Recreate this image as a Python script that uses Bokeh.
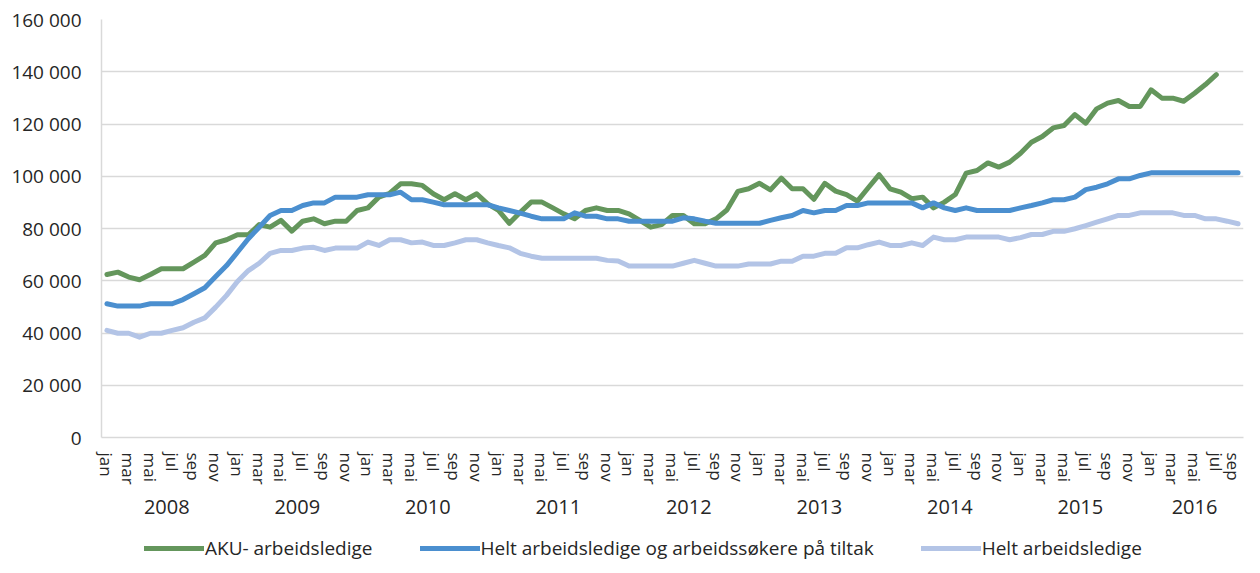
from bokeh.plotting import figure
from bokeh.layouts import column
from bokeh.models import FixedTicker, LinearAxis, Range1d, Legend, LegendItem, ColumnDataSource
from bokeh.embed import file_html
from bokeh.resources import INLINE

# ---- data -------------------------------------------------------------
MONTHS = ["jan", "feb", "mar", "apr", "mai", "jun", "jul", "aug", "sep", "okt", "nov", "des"]
YEARS = [2008, 2009, 2010, 2011, 2012, 2013, 2014, 2015, 2016]
N_MONTHS = 105  # jan 2008 .. sep 2016

SERIES_NAMES = ["AKU- arbeidsledige",
                "Helt arbeidsledige og arbeidssøkere på tiltak",
                "Helt arbeidsledige"]

# thousands of persons, one value per month from jan 2008
aku = [62.4, 63.3, 61.4, 60.4, 62.4, 64.6, 64.6, 64.6, 67.1, 69.7, 74.5, 75.7,
       77.6, 77.6, 81.5, 80.5, 83.1, 79.0, 82.8, 83.7, 81.8, 82.8, 82.8, 86.9,
       87.9, 92.0, 93.5, 97.1, 97.1, 96.5, 93.3, 91.0, 93.3, 91.0, 93.3, 89.4,
       86.9, 82.0, 86.2, 90.1, 90.1, 87.9, 85.6, 83.7, 86.9, 87.9, 86.9, 86.9,
       85.6, 83.1, 80.5, 81.5, 85.0, 85.0, 81.8, 81.8, 83.7, 87.1, 94.2, 95.2,
       97.3, 94.8, 99.3, 95.2, 95.2, 91.2, 97.3, 94.3, 93.0, 90.5, 95.6, 100.6,
       95.2, 93.9, 91.4, 92.0, 87.9, 90.1, 93.0, 101.2, 102.2, 105.1, 103.5, 105.4,
       108.8, 113.0, 115.2, 118.5, 119.4, 123.6, 120.3, 125.8, 128.0, 129.0, 126.7, 126.7,
       133.1, 129.9, 129.9, 128.7, 131.8, 135.1, 138.9]

tiltak = [51.2, 50.3, 50.3, 50.3, 51.2, 51.2, 51.2, 52.8, 55.0, 57.3, 61.6, 65.8,
          70.9, 76.1, 80.5, 85.0, 86.9, 86.9, 88.8, 89.8, 89.8, 92.0, 92.0, 92.0,
          92.9, 92.9, 92.9, 93.9, 91.0, 91.0, 90.1, 89.1, 89.1, 89.1, 89.1, 89.1,
          87.9, 86.9, 85.9, 84.7, 83.7, 83.7, 83.7, 86.0, 84.7, 84.7, 83.7, 83.7,
          82.8, 82.8, 82.8, 82.8, 82.8, 84.1, 83.7, 82.8, 82.0, 82.0, 82.0, 82.0,
          82.0, 83.1, 84.1, 85.0, 86.9, 86.0, 86.9, 86.9, 88.8, 88.8, 89.8, 89.8,
          89.8, 89.8, 89.8, 87.9, 89.8, 87.9, 86.9, 87.9, 86.9, 86.9, 86.9, 86.9,
          87.9, 88.8, 89.8, 91.0, 91.0, 92.0, 94.9, 95.8, 97.1, 99.0, 99.0, 100.3,
          101.3, 101.3, 101.3, 101.3, 101.3, 101.3, 101.3, 101.3, 101.3]

helt = [41.0, 39.9, 39.9, 38.4, 39.9, 39.9, 41.0, 42.0, 44.1, 45.8, 49.9, 54.4,
        59.7, 63.9, 66.7, 70.5, 71.6, 71.6, 72.5, 72.8, 71.6, 72.5, 72.5, 72.5,
        74.8, 73.5, 75.7, 75.7, 74.5, 74.8, 73.5, 73.5, 74.5, 75.7, 75.7, 74.5,
        73.5, 72.6, 70.5, 69.4, 68.6, 68.6, 68.6, 68.6, 68.6, 68.6, 67.8, 67.6,
        65.6, 65.6, 65.6, 65.6, 65.6, 66.7, 67.8, 66.7, 65.6, 65.6, 65.6, 66.4,
        66.4, 66.4, 67.5, 67.5, 69.4, 69.4, 70.5, 70.5, 72.6, 72.6, 73.8, 74.8,
        73.5, 73.5, 74.5, 73.5, 76.7, 75.7, 75.7, 76.7, 76.7, 76.7, 76.7, 75.7,
        76.5, 77.7, 77.7, 78.9, 78.9, 79.9, 81.1, 82.4, 83.7, 85.0, 85.0, 86.0,
        86.0, 86.0, 86.0, 85.0, 85.0, 83.7, 83.7, 82.8, 81.8]

Y_TICKS = [0, 20000, 40000, 60000, 80000, 100000, 120000, 140000, 160000]

COLORS = ["#64965c", "#4b8fcf", "#b3c4e6"]

# ---- styling ----------------------------------------------------------
TXT = "#262626"
GRID = "#d9d9d9"
FONT = "Open Sans"

p = figure(width=1244, height=533, output_backend="svg", toolbar_location=None,
           x_range=Range1d(0, N_MONTHS), y_range=Range1d(0, 160000),
           min_border_left=101, min_border_right=1, min_border_top=19, min_border_bottom=96,
           x_axis_location=None)
p.outline_line_color = None
p.background_fill_color = "white"
p.border_fill_color = "white"


def xs(n):
    return [i + 0.5 for i in range(n)]


sources = []
renderers = []
for vals, col in zip([aku, tiltak, helt], COLORS):
    src = ColumnDataSource(dict(x=xs(len(vals)), y=[v * 1000 for v in vals]))
    sources.append(src)
    r = p.line("x", "y", source=src, line_color=col, line_width=5,
               line_join="round", line_cap="round")
    renderers.append(r)

# y axis
ya = p.yaxis[0]
ya.ticker = FixedTicker(ticks=Y_TICKS)
ya.major_label_overrides = {t: (f"{t:,}".replace(",", " ")) for t in Y_TICKS}
ya.major_label_text_font = FONT
ya.major_label_text_font_size = "19px"
ya.major_label_text_color = TXT
ya.axis_line_color = GRID
ya.axis_line_width = 1.5
ya.major_tick_line_color = None
ya.minor_tick_line_color = None
ya.major_label_standoff = 14

p.ygrid.ticker = FixedTicker(ticks=Y_TICKS)
p.ygrid.grid_line_color = GRID
p.ygrid.grid_line_width = 1.5
p.xgrid.grid_line_color = None

# month axis
month_ticks = [i + 0.5 for i in range(0, N_MONTHS, 2)]
xa = LinearAxis(ticker=FixedTicker(ticks=month_ticks),
                major_label_overrides={i + 0.5: MONTHS[i % 12] for i in range(0, N_MONTHS, 2)},
                major_label_orientation="vertical")
xa.major_label_text_font = FONT
xa.major_label_text_font_size = "17px"
xa.major_label_text_color = TXT
xa.axis_line_color = GRID
xa.axis_line_width = 1.5
xa.major_tick_line_color = None
xa.minor_tick_line_color = None
xa.major_label_standoff = 9
p.add_layout(xa, "below")

# year axis
year_centers = []
for k, yr in enumerate(YEARS):
    start = 12 * k
    cnt = min(12, N_MONTHS - start)
    year_centers.append(start + cnt / 2)
ya2 = LinearAxis(ticker=FixedTicker(ticks=year_centers),
                 major_label_overrides={c: str(y) for c, y in zip(year_centers, YEARS)})
ya2.major_label_text_font = FONT
ya2.major_label_text_font_size = "20px"
ya2.major_label_text_color = TXT
ya2.axis_line_color = None
ya2.major_tick_line_color = None
ya2.minor_tick_line_color = None
ya2.major_label_standoff = 6
p.add_layout(ya2, "below")

# ---- legend strip -----------------------------------------------------
lf = figure(width=1244, height=32, output_backend="svg", toolbar_location=None,
            x_range=Range1d(-20, -10), y_range=Range1d(-20, -10),
            min_border=0, x_axis_location=None, y_axis_location=None)
lf.outline_line_color = None
lf.xgrid.grid_line_color = None
lf.ygrid.grid_line_color = None
lrs = []
for src, col in zip(sources, COLORS):
    lrs.append(lf.line("x", "y", source=src, line_color=col, line_width=5, line_cap="round"))

legend = Legend(items=[LegendItem(label=n, renderers=[r]) for n, r in zip(SERIES_NAMES, lrs)],
                orientation="horizontal", location=(43, 4))
legend.label_text_font = FONT
legend.label_text_font_size = "19px"
legend.label_text_color = TXT
legend.glyph_width = 60
legend.glyph_height = 24
legend.label_height = 24
legend.label_standoff = 1
legend.spacing = 47
legend.padding = 0
legend.margin = 0
legend.border_line_color = None
legend.background_fill_alpha = 0
lf.add_layout(legend, "center")

layout = column(p, lf, spacing=0)
open("out.html", "w").write(file_html(layout, INLINE))
